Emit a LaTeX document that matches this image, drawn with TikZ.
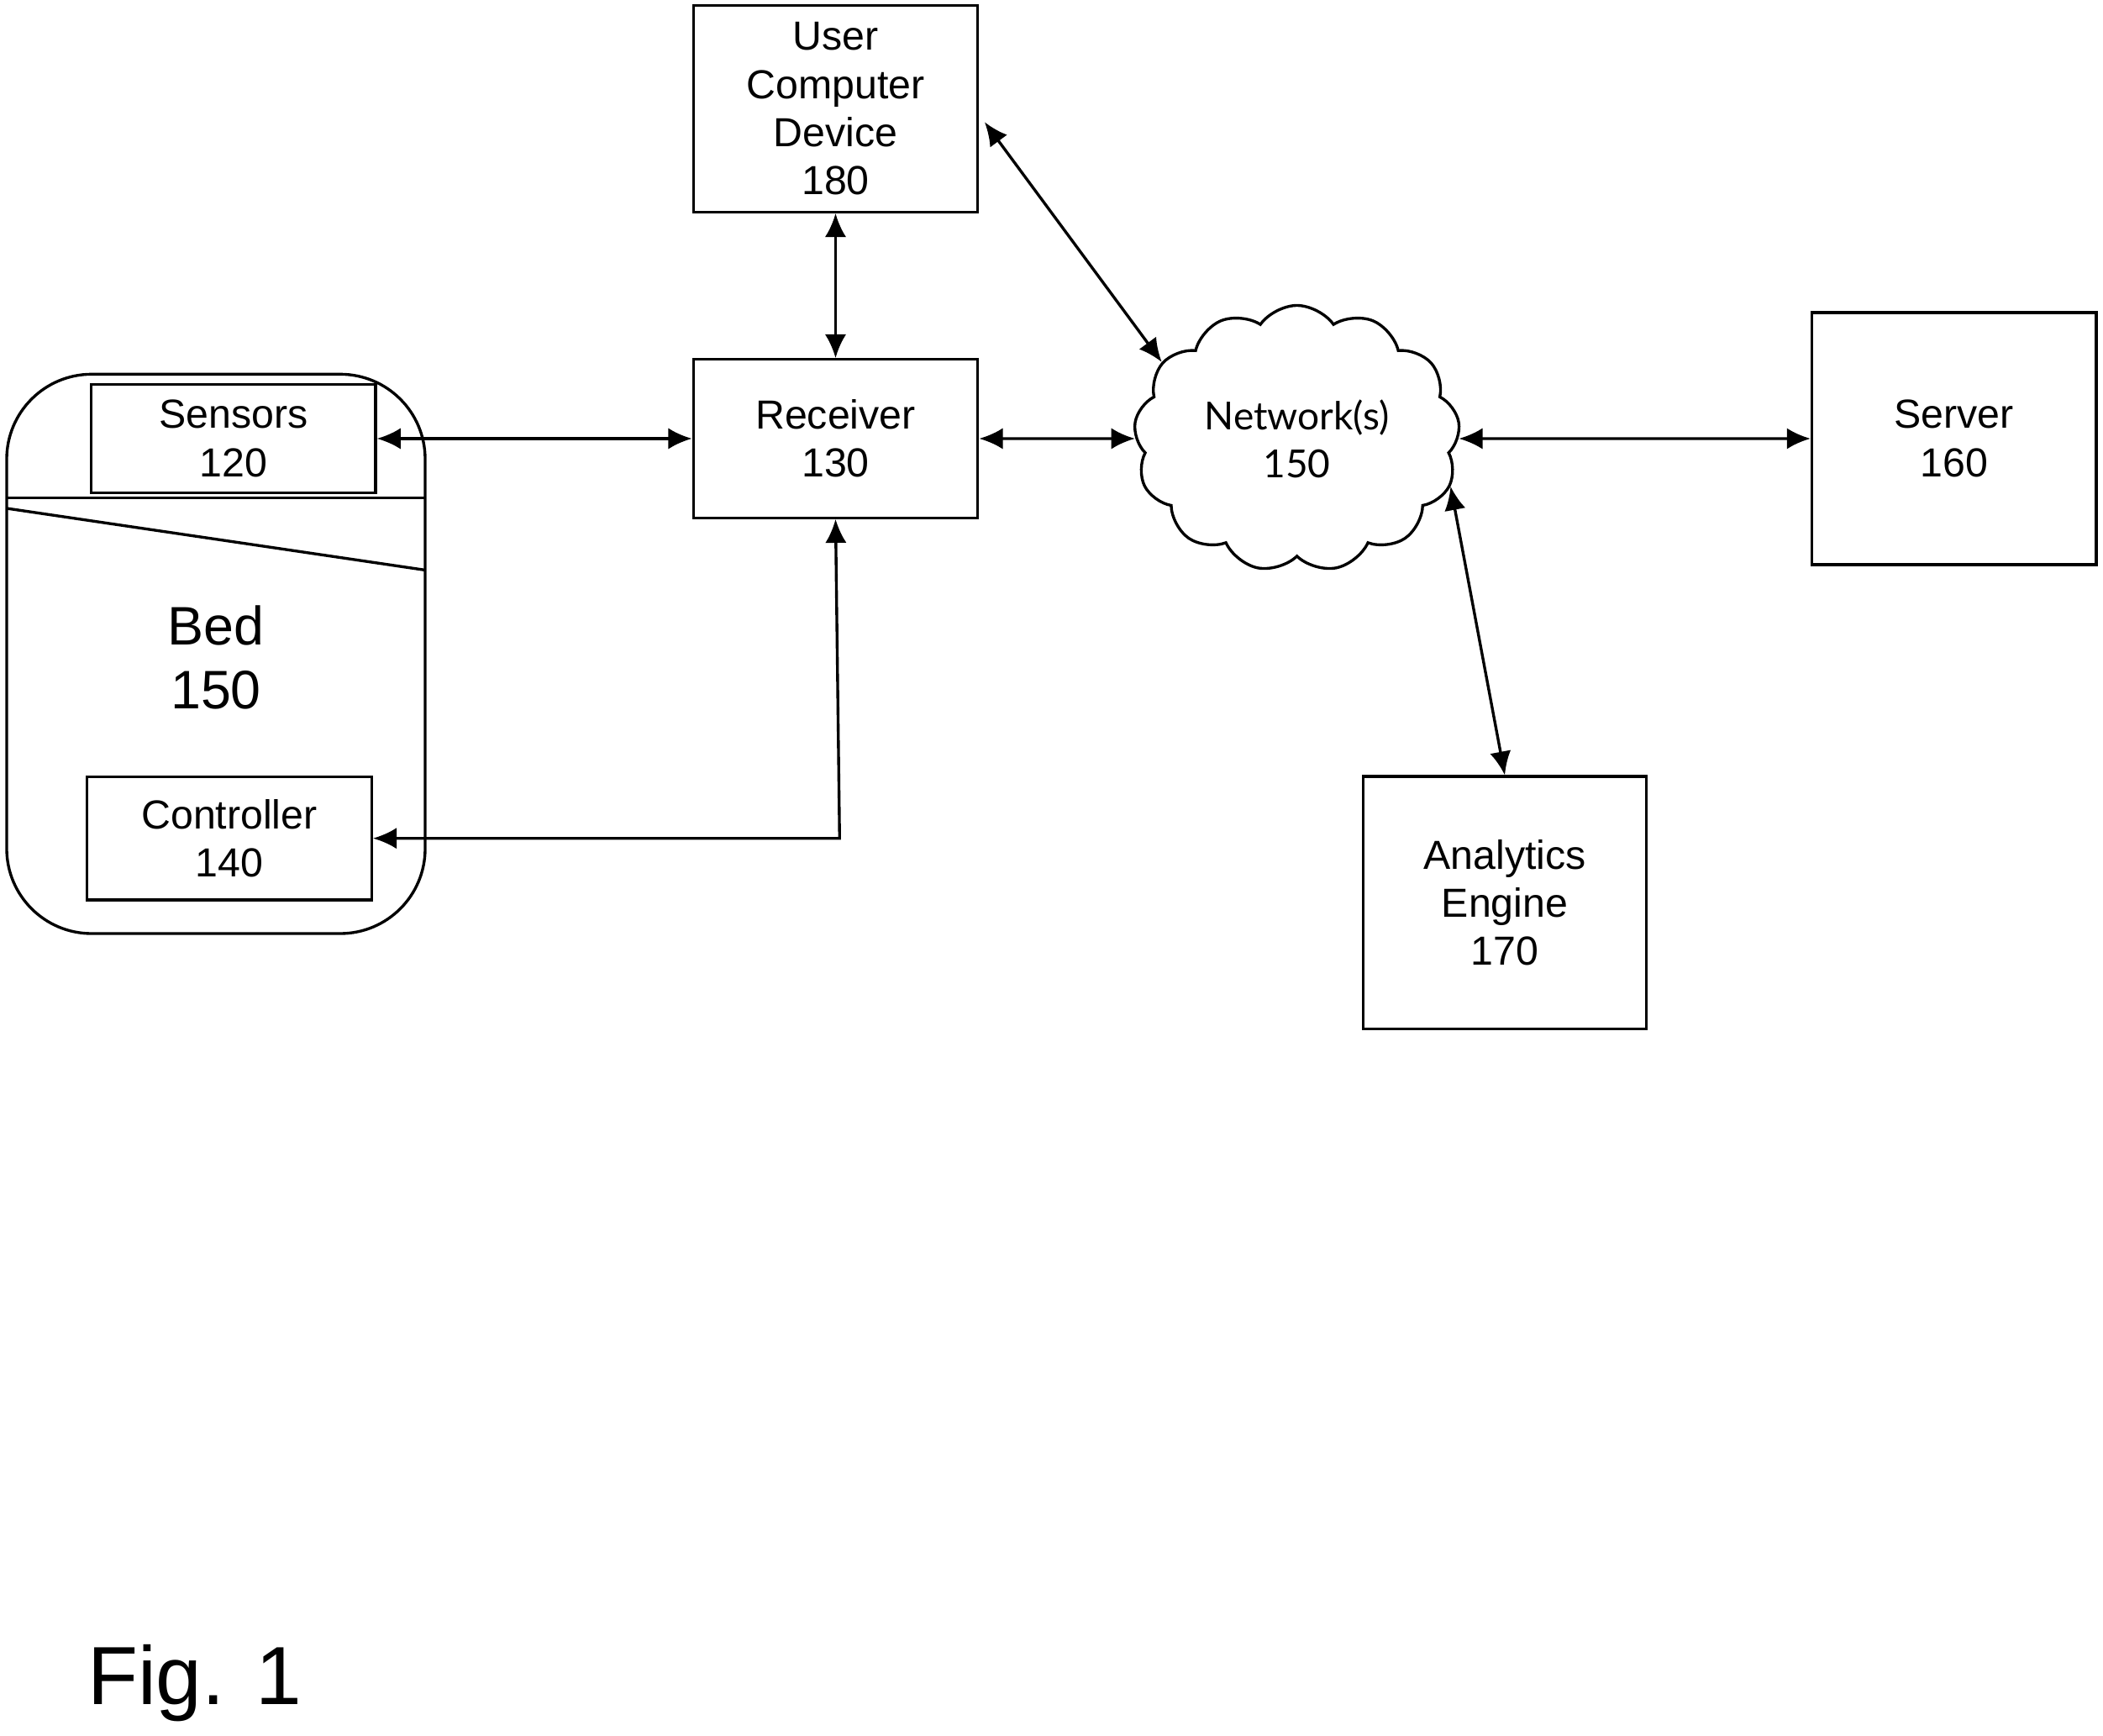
\documentclass[tikz,border=0pt]{standalone}
\usepackage{fontspec}
\setmainfont{Liberation Sans}
\newfontfamily\cloudfont{Lato}
\usetikzlibrary{shapes.symbols,arrows.meta}
\tikzset{
  blk/.style={draw, line width=0.6pt, rectangle, align=center, font=\fontsize{8.6}{10.2}\selectfont},
  link/.style={{Latex[length=5pt,width=4.5pt]}-{Latex[length=5pt,width=4.5pt]}, line width=0.6pt}
}
\begin{document}
\begin{tikzpicture}[x=0.01cm, y=-0.01cm]
\useasboundingbox (0,0) rectangle (1568,1294);
% bed frame
\draw[line width=0.6pt, rounded corners=18pt] (5,279) rectangle (317,696);
\draw[line width=0.6pt] (5,371) -- (317,371);
\draw[line width=0.6pt] (5,379) -- (317,425);
\node[align=center, font=\fontsize{11.5}{13.6}\selectfont] (bed) at (161,490) {Bed\\150};
% boxes
\node[blk, minimum width=2.12cm, minimum height=0.72cm] (sensors) at (174,327) {Sensors\\120};
\node[blk, minimum width=2.12cm, minimum height=0.92cm] (ctrl) at (171,625) {Controller\\140};
\node[blk, minimum width=2.12cm, minimum height=1.18cm] (rcv) at (623,327) {Receiver\\130};
\node[blk, minimum width=2.12cm, minimum height=1.54cm] (ucd) at (623,81) {User\\Computer\\Device\\180};
\node[blk, minimum width=2.12cm, minimum height=1.88cm] (srv) at (1457,327) {Server\\160};
\node[blk, minimum width=2.11cm, minimum height=1.88cm] (ana) at (1122,673) {Analytics\\Engine\\170};
\node[draw, line width=0.6pt, cloud, cloud puffs=13, cloud puff arc=110, aspect=1.3,
  minimum width=2.15cm, minimum height=1.75cm, align=center,
  font=\cloudfont\fontsize{8.2}{10.2}\selectfont] (net) at (967,327) {Network(s)\\150};
% connectors
\draw[link] (sensors.east) -- (rcv.west);
\draw[link] (ucd.south) -- (rcv.north);
\draw[link] (rcv.east) -- (net.west);
\draw[link] (net.east) -- (srv.west);
\draw[link] (ucd.east) ++(4,10) coordinate (u1) (u1) -- (net.puff 3);
\draw[link] (net.puff 10) -- (ana.north);
\coordinate (bend) at (626,625);
\draw[link] (ctrl.east) -- (bend) -- (rcv.south);
\node[font=\fontsize{17.5}{20}\selectfont] (fig) at (145,1255) {Fig. 1};
\end{tikzpicture}
\end{document}
